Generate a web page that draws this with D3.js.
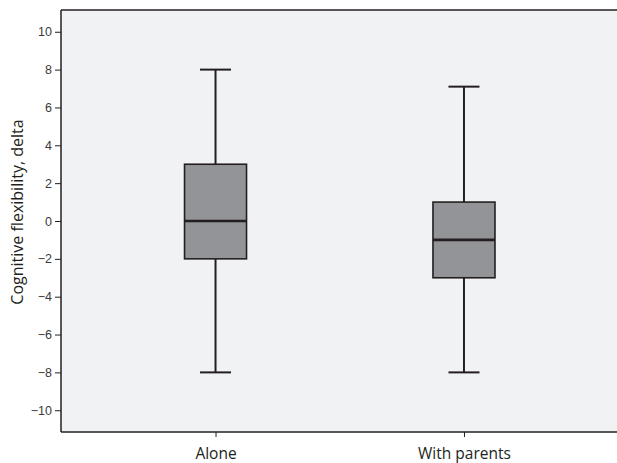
<!DOCTYPE html>
<html>
<head>
<meta charset="UTF-8">
<script src="https://d3js.org/d3.v7.min.js"></script>
<style>
  body { margin: 0; background: #fff; }
  svg { display: block; }
</style>
</head>
<body>
<svg></svg>
<script>
  // Daten: Boxplot-Kennwerte je Gruppe
  const groups = ["Alone", "With parents"];
  const whiskerLow = [-8, -8];
  const q1 = [-2, -3];
  const median = [0, -1];
  const q3 = [3, 1];
  const whiskerHigh = [8, 7.1];
  const yTicks = [-10, -8, -6, -4, -2, 0, 2, 4, 6, 8, 10];

  const width = 617, height = 463;
  const plotLeft = 61, plotTop = 10, plotRight = 618.5, plotBottom = 432;

  const svg = d3.select("svg")
    .attr("width", width)
    .attr("height", height);

  const x = d3.scalePoint()
    .domain(groups)
    .range([plotLeft, plotRight])
    .padding(0.622);

  const y = d3.scaleLinear()
    .domain([-11.15, 11.15])
    .range([plotBottom, plotTop]);

  // Hintergrund der Plotfläche
  svg.append("rect")
    .attr("x", plotLeft).attr("y", plotTop)
    .attr("width", plotRight - plotLeft).attr("height", plotBottom - plotTop)
    .attr("fill", "#f1f2f4");

  const boxW = 62, capW = 31;
  const stroke = "#231f20";

  groups.forEach((g, i) => {
    const cx = x(g);
    const grp = svg.append("g");
    // Whisker
    grp.append("line")
      .attr("x1", cx).attr("x2", cx)
      .attr("y1", y(whiskerHigh[i])).attr("y2", y(q3[i]))
      .attr("stroke", stroke).attr("stroke-width", 2);
    grp.append("line")
      .attr("x1", cx).attr("x2", cx)
      .attr("y1", y(q1[i])).attr("y2", y(whiskerLow[i]))
      .attr("stroke", stroke).attr("stroke-width", 2);
    // Caps
    [whiskerHigh[i], whiskerLow[i]].forEach(v => {
      grp.append("line")
        .attr("x1", cx - capW / 2).attr("x2", cx + capW / 2)
        .attr("y1", y(v)).attr("y2", y(v))
        .attr("stroke", stroke).attr("stroke-width", 2);
    });
    // Box
    grp.append("rect")
      .attr("x", cx - boxW / 2).attr("y", y(q3[i]))
      .attr("width", boxW).attr("height", y(q1[i]) - y(q3[i]))
      .attr("fill", "#939497")
      .attr("stroke", stroke).attr("stroke-width", 1.6);
    // Median
    grp.append("line")
      .attr("x1", cx - boxW / 2).attr("x2", cx + boxW / 2)
      .attr("y1", y(median[i])).attr("y2", y(median[i]))
      .attr("stroke", stroke).attr("stroke-width", 2.6);
  });

  // y-Achse
  const yAxis = svg.append("g")
    .attr("transform", `translate(${plotLeft},0)`)
    .call(d3.axisLeft(y).tickValues(yTicks).tickSize(6).tickPadding(3)
      .tickFormat(d => d < 0 ? "\u2212" + Math.abs(d) : d));
  yAxis.select(".domain").remove();
  yAxis.selectAll(".tick line").attr("stroke", stroke);
  yAxis.selectAll(".tick text")
    .attr("font-family", "Liberation Sans, Arial, sans-serif")
    .attr("font-size", "12.5px")
    .attr("fill", "#3a3a3a");

  // x-Achse
  const xAxis = svg.append("g")
    .attr("transform", `translate(0,${plotBottom})`)
    .call(d3.axisBottom(x).tickSize(5).tickPadding(11));
  xAxis.select(".domain").remove();
  xAxis.selectAll(".tick line").attr("stroke", stroke);
  xAxis.selectAll(".tick text")
    .attr("font-family", "Open Sans, sans-serif")
    .attr("font-size", "15.5px")
    .attr("fill", "#231f20");

  // Achsenlinien
  svg.append("line")
    .attr("x1", plotLeft).attr("x2", plotLeft)
    .attr("y1", plotTop).attr("y2", plotBottom)
    .attr("stroke", stroke).attr("stroke-width", 1.5);
  svg.append("line")
    .attr("x1", plotLeft).attr("x2", width)
    .attr("y1", plotBottom).attr("y2", plotBottom)
    .attr("stroke", stroke).attr("stroke-width", 1.5);
  svg.append("line")
    .attr("x1", plotLeft).attr("x2", width)
    .attr("y1", plotTop).attr("y2", plotTop)
    .attr("stroke", stroke).attr("stroke-width", 1.5);

  // y-Achsentitel
  svg.append("text")
    .attr("transform", `translate(23,212) rotate(-90)`)
    .attr("text-anchor", "middle")
    .attr("font-family", "Open Sans, sans-serif")
    .attr("font-size", "16px")
    .attr("fill", "#231f20")
    .text("Cognitive flexibility, delta");
</script>
</body>
</html>
